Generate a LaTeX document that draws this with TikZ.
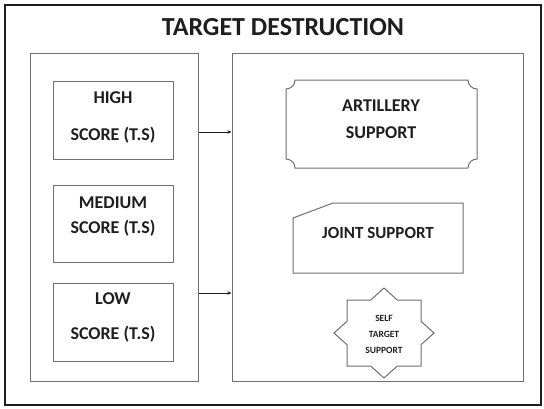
\documentclass[tikz,border=0pt]{standalone}
\usepackage{fontspec}
\setmainfont{Carlito}
\usetikzlibrary{arrows.meta}
\definecolor{ink}{HTML}{1E1E1E}
\definecolor{edge}{HTML}{6E6E6E}
\begin{document}
\begin{tikzpicture}[x=1pt,y=-1pt,
  frame/.style={draw=ink, line width=1.2pt, inner sep=0pt},
  panel/.style={draw=edge, line width=1pt, inner sep=0pt},
  scorebox/.style={draw=edge, line width=1pt, inner sep=0pt,
    minimum width=120pt},
  boxtext/.style={text=ink, font=\bfseries\fontsize{18}{20}\selectfont,
    anchor=base, inner sep=0pt},
  smalltext/.style={text=ink, font=\bfseries\fontsize{9.5}{10}\selectfont,
    anchor=base, inner sep=0pt},
  shapeline/.style={draw=edge, line width=1pt},
  arr/.style={draw=ink, line width=0.7pt,
    -{Stealth[length=4pt,width=3.5pt]}}]
\useasboundingbox (0,0) rectangle (544,408);

% outer frame and title
\node[frame, minimum width=536pt, minimum height=400pt] (page) at (273,205) {};
\node[text=ink, font=\bfseries\fontsize{26}{28}\selectfont, anchor=base,
  inner sep=0pt] (title) at (283,35.5) {TARGET DESTRUCTION};

% the two panels
\node[panel, minimum width=168pt, minimum height=328pt] (leftpanel) at (114,217) {};
\node[panel, minimum width=291pt, minimum height=328pt] (rightpanel) at (377.5,217) {};

% score boxes
\node[scorebox, minimum height=78pt] (high) at (113,120) {};
\node[scorebox, minimum height=77pt] (medium) at (113,223.5) {};
\node[scorebox, minimum height=78pt] (low) at (113,322) {};

\node[boxtext] (highA) at (113,103) {HIGH};
\node[boxtext] (highB) at (113,140) {SCORE (T.S)};
\node[boxtext] (medA) at (113,208) {MEDIUM};
\node[boxtext] (medB) at (113,233) {SCORE (T.S)};
\node[boxtext] (lowA) at (113,304) {LOW};
\node[boxtext] (lowB) at (113,339) {SCORE (T.S)};

% artillery support: plaque with concave corners
\draw[shapeline] (295,80) -- (468,80)
  .. controls (468,85) and (472,89) .. (477,89) -- (477,159)
  .. controls (472,159) and (468,163) .. (468,168) -- (295,168)
  .. controls (295,163) and (291,159) .. (286,159) -- (286,89)
  .. controls (291,89) and (295,85) .. (295,80) -- cycle;
\node[boxtext] (artA) at (381,111) {ARTILLERY};
\node[boxtext] (artB) at (381,138) {SUPPORT};

% joint support: rectangle with a snipped corner
\draw[shapeline] (293,218) -- (333,203) -- (463,203) -- (463,273)
  -- (293,273) -- cycle;
\node[boxtext, font=\bfseries\fontsize{17}{19}\selectfont] (joint) at (378,238) {JOINT SUPPORT};

% self target support: eight-pointed star
\draw[shapeline, shift={(384,333)}]
  (0,-45) -- (13.3,-33) -- (37,-33) -- (37,-11.7) -- (50,0) -- (37,11.7)
  -- (37,33) -- (13.3,33) -- (0,45) -- (-13.3,33) -- (-37,33) -- (-37,11.7)
  -- (-50,0) -- (-37,-11.7) -- (-37,-33) -- (-13.3,-33) -- cycle;
\node[smalltext] (selfA) at (384,321) {SELF};
\node[smalltext] (selfB) at (384,337) {TARGET};
\node[smalltext] (selfC) at (384,353) {SUPPORT};

% connectors between the panels
\coordinate (rowhigh) at (215,132);
\coordinate (rowlow) at (215,293);
\draw[arr] (leftpanel.east |- rowhigh) -- (rightpanel.west |- rowhigh);
\draw[arr] (leftpanel.east |- rowlow) -- (rightpanel.west |- rowlow);
\end{tikzpicture}
\end{document}
